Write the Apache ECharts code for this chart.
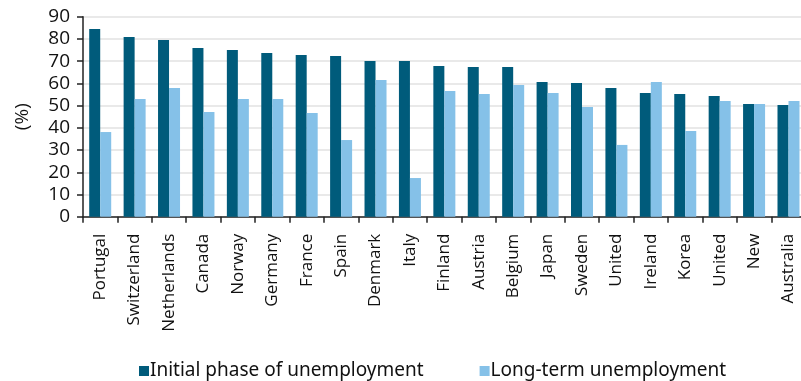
<!DOCTYPE html>
<html>
<head>
<meta charset="utf-8">
<script src="https://cdn.jsdelivr.net/npm/echarts@6/dist/echarts.min.js"></script>
<style>
html,body{margin:0;padding:0;background:#fff;}
#chart{width:801px;height:381px;}
</style>
</head>
<body>
<div id="chart"></div>
<script>
const categories = ["Portugal","Switzerland","Netherlands","Canada","Norway","Germany","France","Spain","Denmark","Italy","Finland","Austria","Belgium","Japan","Sweden","United","Ireland","Korea","United","New","Australia"];
const initialPhase = [84.5,80.9,79.5,75.9,75.0,73.7,72.8,72.3,70.1,70.1,67.8,67.4,67.4,60.6,60.2,57.9,55.7,55.2,54.3,50.7,50.3];
const longTerm = [38.1,53.0,57.9,47.1,53.0,53.0,46.7,34.5,61.5,17.4,56.6,55.2,59.3,55.7,49.4,32.3,60.6,38.6,52.1,50.7,52.1];
const yTicks = {min:0, max:90, interval:10};
const seriesNames = ["Initial phase of unemployment","Long-term unemployment"];
</script>
<script>
const chart = echarts.init(document.getElementById('chart'), null, {renderer:'canvas'});
const fontFam = "'Open Sans', 'Noto Sans', sans-serif";
chart.setOption({
  animation:false,
  grid:{left:83, top:16.7, bottom:164.3, right:-4.7, containLabel:false, outerBoundsMode:'none'},
  legend:{
    top:361, left:139, padding:0, itemWidth:10, itemHeight:10, itemGap:56, icon:'rect',
    textStyle:{fontSize:19, lineHeight:20, color:'#111', fontFamily:"'Noto Sans', sans-serif", padding:[0,0,0,-4]},
    data:seriesNames
  },
  xAxis:{
    type:'category', data:categories,
    axisLine:{lineStyle:{color:'#222', width:1.5}},
    axisTick:{show:true, length:6, lineStyle:{color:'#222', width:1.5}},
    axisLabel:{rotate:90, interval:0, fontSize:17, color:'#111', margin:17, fontFamily:fontFam}
  },
  yAxis:{
    type:'value', min:yTicks.min, max:yTicks.max, interval:yTicks.interval,
    name:'(%)', nameLocation:'middle', nameGap:51, nameRotate:90,
    nameTextStyle:{fontSize:19, color:'#111', fontFamily:fontFam},
    axisLine:{show:true, lineStyle:{color:'#222', width:1.5}},
    axisTick:{show:true, length:6, lineStyle:{color:'#222', width:1.5}},
    axisLabel:{fontSize:19, color:'#111', margin:13, fontFamily:fontFam},
    splitLine:{lineStyle:{color:'#e2e2e2', width:1.5}}
  },
  series:[
    {name:seriesNames[0], type:'bar', data:initialPhase, barWidth:11, barGap:'0%', itemStyle:{color:'#005b7b'}},
    {name:seriesNames[1], type:'bar', data:longTerm, barWidth:11, barGap:'0%', itemStyle:{color:'#85c1e8'}}
  ]
});
</script>
</body>
</html>
